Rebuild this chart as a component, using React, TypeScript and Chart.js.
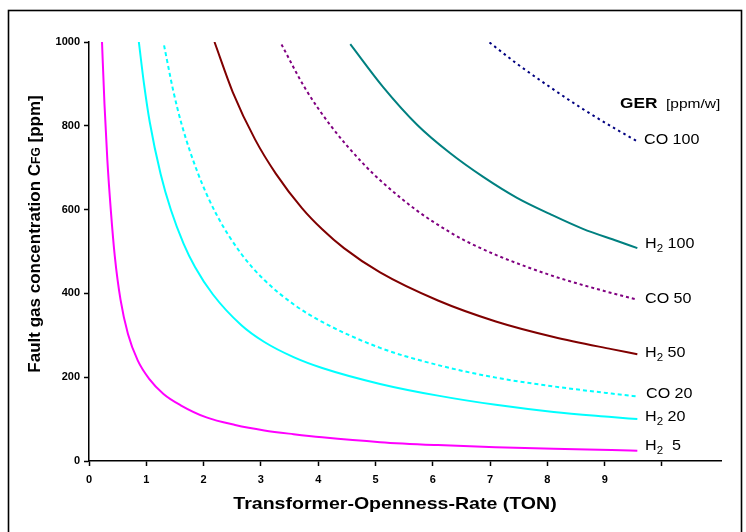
import React, { useEffect, useRef } from 'react';
import { Chart, registerables } from 'chart.js';

Chart.register(...registerables);

// ---------------- data ----------------
const H2_5_X = [0.227, 0.27, 0.32, 0.38, 0.45, 0.55, 0.68, 0.85, 1.05, 1.3, 1.6, 2.05, 2.55, 3.06, 3.57, 4.07, 5.08, 6.09, 7.10, 8.11, 9.12, 9.57];
const H2_5_Y = [1000, 852, 719, 600, 489, 385, 303, 240, 196, 160, 133, 104, 86, 73, 64, 56.5, 45, 38, 33, 29, 26, 24.5];

const H2_20_X = [0.87, 0.96, 1.06, 1.25, 1.43, 1.65, 1.85, 2.16, 2.66, 3.06, 3.57, 4.07, 5.08, 6.09, 7.10, 8.11, 9.12, 9.57];
const H2_20_Y = [1000, 900, 809, 685, 599, 519, 463, 398, 324, 284, 248, 222, 184, 156, 134, 117, 105, 100];

const CO_20_X = [1.31, 1.47, 1.62, 1.90, 2.23, 2.66, 3.06, 3.57, 4.07, 5.08, 6.09, 7.10, 8.11, 9.12, 9.57];
const CO_20_Y = [992, 884, 802, 687, 587, 494, 432, 374, 332, 270, 229, 199, 178, 161, 154];

const H2_50_X = [2.19, 2.51, 2.90, 3.26, 3.72, 4.07, 4.45, 5.08, 6.09, 7.10, 8.11, 9.12, 9.57];
const H2_50_Y = [1000, 880, 767, 686, 603, 553, 508, 450, 383, 333, 296, 267, 255];

const CO_50_X = [3.36, 3.77, 4.22, 4.79, 5.13, 5.73, 6.30, 6.59, 7.10, 8.11, 9.12, 9.57];
const CO_50_Y = [994, 890, 800, 709, 664, 597, 546, 524, 492, 441, 401, 385];

const H2_100_X = [4.56, 5.13, 5.73, 6.30, 6.88, 7.47, 8.05, 8.62, 9.22, 9.57];
const H2_100_Y = [995, 893, 802, 735, 678, 628, 589, 554, 525, 508];

const CO_100_X = [6.99, 7.47, 8.05, 8.62, 9.22, 9.57];
const CO_100_Y = [999, 948, 892, 840, 790, 763];

const X_TICK_LABELS = [0, 1, 2, 3, 4, 5, 6, 7, 8, 9];
const X_TICK_MARKS = [0, 1, 2, 3, 4, 5, 6, 7, 8, 9, 10];
const Y_TICKS = [0, 200, 400, 600, 800, 1000];

const X_TITLE = 'Transformer-Openness-Rate (TON)';
const Y_TITLE_MAIN = 'Fault gas concentration C';
const Y_TITLE_SUB = 'FG';
const Y_TITLE_END = ' [ppm]';

const FONT = 'Arial, "Liberation Sans", sans-serif';

const pts = (xs: number[], ys: number[]) => xs.map((x, i) => ({ x, y: ys[i] }));

type Part = { text: string; size: number; bold?: boolean; dy?: number };

function drawParts(ctx: CanvasRenderingContext2D, parts: Part[], x: number, y: number, sx: number, align: 'left' | 'center') {
  ctx.save();
  ctx.textBaseline = 'middle';
  ctx.textAlign = 'left';
  ctx.fillStyle = '#000';
  let total = 0;
  const widths = parts.map((p) => {
    ctx.font = `${p.bold ? 'bold ' : ''}${p.size}px ${FONT}`;
    const w = ctx.measureText(p.text).width;
    total += w;
    return w;
  });
  ctx.translate(x, y);
  ctx.scale(sx, 1);
  let cx = align === 'center' ? -total / 2 : 0;
  parts.forEach((p, i) => {
    ctx.font = `${p.bold ? 'bold ' : ''}${p.size}px ${FONT}`;
    ctx.fillText(p.text, cx, p.dy || 0);
    cx += widths[i];
  });
  ctx.restore();
}

const h2 = (rest: string): Part[] => [
  { text: 'H', size: 14 },
  { text: '2', size: 10, dy: 5 },
  { text: rest, size: 14 },
];

const decorPlugin = {
  id: 'decor',
  beforeDraw(chart: any) {
    const ctx = chart.ctx as CanvasRenderingContext2D;
    ctx.save();
    ctx.fillStyle = '#fff';
    ctx.fillRect(0, 0, chart.width, chart.height);
    ctx.strokeStyle = '#000';
    ctx.lineWidth = 1.6;
    ctx.strokeRect(8.5, 10.5, 733, 560);
    ctx.restore();
  },
  afterDraw(chart: any) {
    const ctx = chart.ctx as CanvasRenderingContext2D;
    const SX = 1.15;
    drawParts(ctx, [{ text: X_TITLE, size: 17, bold: true }], 395, 504, SX, 'center');
    ctx.save();
    ctx.translate(35, 234);
    ctx.rotate(-Math.PI / 2);
    drawParts(
      ctx,
      [
        { text: Y_TITLE_MAIN, size: 17, bold: true },
        { text: Y_TITLE_SUB, size: 12, bold: true, dy: 2 },
        { text: Y_TITLE_END, size: 17, bold: true },
      ],
      0,
      0,
      1,
      'center'
    );
    ctx.restore();
    drawParts(
      ctx,
      [
        { text: 'GER', size: 15, bold: true },
        { text: '  [ppm/w]', size: 13.5 },
      ],
      620,
      104,
      SX,
      'left'
    );
    drawParts(ctx, [{ text: 'CO 100', size: 14 }], 644, 140, SX, 'left');
    drawParts(ctx, h2(' 100'), 645, 244, SX, 'left');
    drawParts(ctx, [{ text: 'CO 50', size: 14 }], 645, 299, SX, 'left');
    drawParts(ctx, h2(' 50'), 645, 353, SX, 'left');
    drawParts(ctx, [{ text: 'CO 20', size: 14 }], 646, 394, SX, 'left');
    drawParts(ctx, h2(' 20'), 645, 417, SX, 'left');
    drawParts(ctx, h2('  5'), 645, 446, SX, 'left');
  },
};

export default function App() {
  const ref = useRef<HTMLCanvasElement | null>(null);
  useEffect(() => {
    if (!ref.current) return;
    const line = (data: any, color: string, dash: number[] = []) => ({
      data,
      borderColor: color,
      backgroundColor: color,
      borderWidth: 2,
      borderDash: dash,
      pointRadius: 0,
      cubicInterpolationMode: 'monotone' as const,
      fill: false,
    });
    const chart = new Chart(ref.current, {
      type: 'line',
      data: {
        datasets: [
          line(pts(H2_5_X, H2_5_Y), '#FF00FF'),
          line(pts(H2_20_X, H2_20_Y), '#00FFFF'),
          line(pts(CO_20_X, CO_20_Y), '#00FFFF', [4, 3]),
          line(pts(H2_50_X, H2_50_Y), '#800000'),
          line(pts(CO_50_X, CO_50_Y), '#800080', [3, 3]),
          line(pts(H2_100_X, H2_100_Y), '#008080'),
          line(pts(CO_100_X, CO_100_Y), '#000080', [2.5, 3.5]),
        ],
      },
      options: {
        animation: false,
        responsive: false,
        maintainAspectRatio: false,
        layout: { padding: { left: 0, top: 42, right: 25, bottom: 0 } },
        plugins: { legend: { display: false }, tooltip: { enabled: false } },
        scales: {
          x: {
            type: 'linear',
            min: 0,
            max: 11.03,
            border: { display: true, color: '#000', width: 1.5 },
            grid: { drawOnChartArea: false, drawTicks: true, tickLength: 5, tickColor: '#000', tickWidth: 1.5 },
            afterBuildTicks: (s: any) => {
              s.ticks = X_TICK_MARKS.map((v) => ({ value: v }));
            },
            afterFit: (s: any) => {
              s.height = 71;
            },
            ticks: {
              autoSkip: false,
              maxRotation: 0,
              padding: 7,
              color: '#000',
              font: { family: FONT, size: 11, weight: 'bold' },
              callback: (v: any) => (X_TICK_LABELS.includes(Number(v)) ? String(v) : ''),
            },
          },
          y: {
            type: 'linear',
            min: 0,
            max: 1000,
            border: { display: true, color: '#000', width: 1.5 },
            grid: { drawOnChartArea: false, drawTicks: true, tickLength: 5, tickColor: '#000', tickWidth: 1.5 },
            afterBuildTicks: (s: any) => {
              s.ticks = Y_TICKS.map((v) => ({ value: v }));
            },
            afterFit: (s: any) => {
              s.width = 89;
            },
            ticks: {
              padding: 4,
              color: '#000',
              font: { family: FONT, size: 11, weight: 'bold' },
              callback: (v: any) => String(v),
            },
          },
        },
      },
      plugins: [decorPlugin],
    } as any);
    return () => chart.destroy();
  }, []);
  return (
    <div style={{ position: 'absolute', left: 0, top: 0, width: 746, height: 532, background: '#fff' }}>
      <canvas ref={ref} width={746} height={532} style={{ display: 'block', width: 746, height: 532 }} />
    </div>
  );
}
